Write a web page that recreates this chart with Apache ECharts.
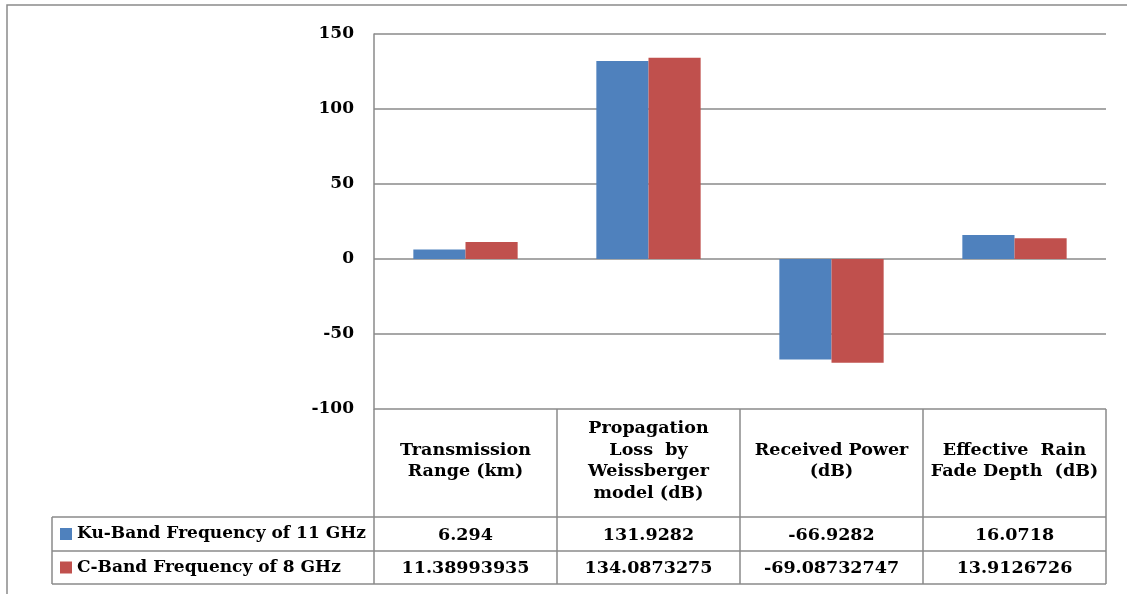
<!DOCTYPE html>
<html>
<head>
<meta charset="utf-8">
<script src="https://cdn.jsdelivr.net/npm/echarts@6/dist/echarts.min.js"></script>
<style>
  html, body { margin: 0; padding: 0; background: #fff; }
  #chart { width: 1127px; height: 594px; }
</style>
</head>
<body>
<div id="chart"></div>
<script>
// Link-budget comparison: Ku-band (11 GHz) vs C-band (8 GHz)
const categories = [
  'Transmission\nRange (km)',
  'Propagation\nLoss  by\nWeissberger\nmodel (dB)',
  'Received Power\n(dB)',
  'Effective  Rain\nFade Depth  (dB)'
];
const seriesNames = ['Ku-Band Frequency of 11 GHz', 'C-Band Frequency of 8 GHz'];
const kuValues = [6.294, 131.9282, -66.9282, 16.0718];
const cValues = [11.38993935, 134.0873275, -69.08732747, 13.9126726];
const yTicks = { min: -100, max: 150, interval: 50 };

const FONT = 'DejaVu Serif';
const GRID_COLOR = '#8a8a8a';
const textBase = { fontFamily: FONT, fontWeight: 'bold', fontSize: 17, color: '#000' };
const tableText = Object.assign({}, textBase, { fontSize: 17.5 });

const chart = echarts.init(document.getElementById('chart'), null, { renderer: 'canvas' });

const gridBox = { left: 374, right: 21, top: 34, bottom: 185 };
const plotRight = 1127 - gridBox.right;
const plotBottom = 594 - gridBox.bottom;
const rowLines = [517, 551, 584];

// Lines of the data table that sit outside the axis area
const tableGraphics = [];
rowLines.forEach(function (y) {
  tableGraphics.push({
    type: 'line', silent: true,
    shape: { x1: 52, y1: y, x2: plotRight, y2: y },
    style: { stroke: GRID_COLOR, lineWidth: 1.5 }
  });
});
tableGraphics.push({
  type: 'line', silent: true,
  shape: { x1: 52, y1: rowLines[0], x2: 52, y2: rowLines[2] },
  style: { stroke: GRID_COLOR, lineWidth: 1.5 }
});
// Chart frame
tableGraphics.push({
  type: 'polyline', silent: true,
  shape: { points: [[7, 600], [7, 5], [1130, 5]] },
  style: { stroke: GRID_COLOR, lineWidth: 1.5, fill: null }
});

function valueAxisRow(values, margin) {
  return {
    type: 'category',
    gridIndex: 0,
    position: 'bottom',
    data: values.map(String),
    axisLine: { show: false, onZero: false },
    axisTick: { show: false },
    splitLine: { show: false },
    axisLabel: Object.assign({}, tableText, {
      interval: 0, margin: margin, verticalAlign: 'middle', align: 'center'
    })
  };
}

chart.setOption({
  backgroundColor: '#fff',
  animation: false,
  grid: gridBox,
  legend: {
    orient: 'vertical',
    left: 60,
    top: 524,
    padding: 0,
    itemWidth: 12,
    itemHeight: 12,
    itemGap: 13.5,
    icon: 'rect',
    selectedMode: false,
    textStyle: Object.assign({}, textBase, { lineHeight: 20 }),
    data: seriesNames
  },
  xAxis: [
    {
      type: 'category',
      position: 'bottom',
      data: categories,
      axisLine: { show: false, onZero: false },
      axisTick: {
        show: true, length: rowLines[2] - plotBottom,
        lineStyle: { color: GRID_COLOR, width: 1.5 }
      },
      splitLine: { show: false },
      axisLabel: Object.assign({}, tableText, {
        interval: 0, margin: 52, lineHeight: 21.5,
        verticalAlign: 'middle', align: 'center'
      })
    },
    valueAxisRow(kuValues, (rowLines[0] + rowLines[1]) / 2 - plotBottom + 1),
    valueAxisRow(cValues, (rowLines[1] + rowLines[2]) / 2 - plotBottom + 1)
  ],
  yAxis: {
    type: 'value',
    min: yTicks.min,
    max: yTicks.max,
    interval: yTicks.interval,
    axisLine: { show: true, lineStyle: { color: GRID_COLOR, width: 1.5 } },
    axisTick: { show: false },
    splitLine: { show: true, lineStyle: { color: GRID_COLOR, width: 1.5 } },
    axisLabel: Object.assign({}, textBase, { margin: 20 })
  },
  series: [
    {
      name: seriesNames[0], type: 'bar', xAxisIndex: 0, data: kuValues,
      barGap: '0%', barCategoryGap: '43%',
      itemStyle: { color: '#4f81bd' }
    },
    {
      name: seriesNames[1], type: 'bar', xAxisIndex: 0, data: cValues,
      barGap: '0%', barCategoryGap: '43%',
      itemStyle: { color: '#c0504d' }
    }
  ],
  graphic: tableGraphics
});
</script>
</body>
</html>
